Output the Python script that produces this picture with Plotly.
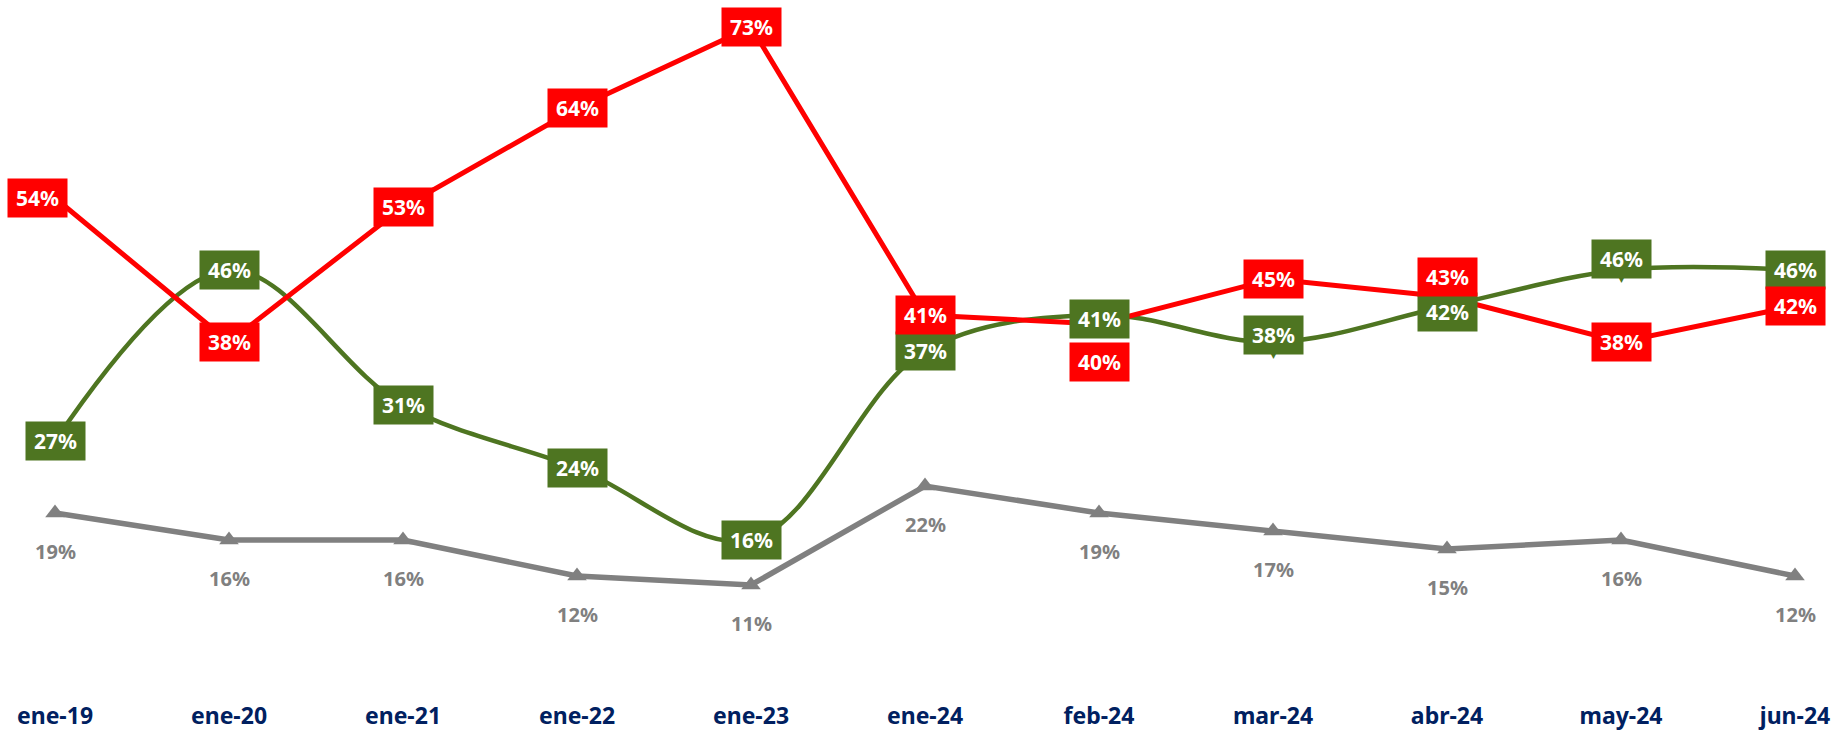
import plotly.graph_objects as go

# ---- data ----
categories = ["ene-19", "ene-20", "ene-21", "ene-22", "ene-23", "ene-24",
              "feb-24", "mar-24", "abr-24", "may-24", "jun-24"]
red_values = [54, 38, 53, 64, 73, 41, 40, 45, 43, 38, 42]
green_values = [27, 46, 31, 24, 16, 37, 41, 38, 42, 46, 46]
gray_values = [19, 16, 16, 12, 11, 22, 19, 17, 15, 16, 12]

# ---- styles ----
RED = "#FF0000"
GREEN = "#4E7521"
GRAY = "#808080"
NAVY = "#002060"
FONT = "Noto Sans"

W, H = 1835, 731
X0_PX, STEP_PX = 55, 174          # pixel position of first category / spacing
Y_BOTTOM_PX, PX_PER_UNIT = 684, 9  # pixel of value 0 / pixels per percent

# label offsets (pixels) for crowded points: index -> (xshift, yshift)
red_shift = {0: (-18, 0), 6: (0, -38), 8: (0, 20)}
green_shift = {6: (0, -4), 7: (0, 7), 8: (0, -6), 9: (0, 11)}
green_pointer = [7, 9]

xs = list(range(len(categories)))

fig = go.Figure()
fig.add_trace(go.Scatter(x=xs, y=gray_values, mode="lines+markers",
                         line=dict(color=GRAY, width=5.5),
                         marker=dict(symbol="triangle-up", size=17, color=GRAY),
                         hoverinfo="skip", showlegend=False))
fig.add_trace(go.Scatter(x=xs, y=green_values, mode="lines",
                         line=dict(color=GREEN, width=4.5, shape="spline", smoothing=1),
                         hoverinfo="skip", showlegend=False))
fig.add_trace(go.Scatter(x=xs, y=red_values, mode="lines",
                         line=dict(color=RED, width=5),
                         hoverinfo="skip", showlegend=False))

annotations = []
# gray labels below markers
for i, v in zip(xs, gray_values):
    annotations.append(dict(x=i, y=v, xref="x", yref="y", text=f"{v}%",
                            showarrow=False, yshift=-38,
                            font=dict(family=FONT, size=20, color=GRAY, weight="bold")))

def boxed(i, v, color, shift):
    dx, dy = shift.get(i, (0, 0))
    return dict(x=i, y=v, xref="x", yref="y", text=f"{v}%", showarrow=False,
                xshift=dx, yshift=dy, bgcolor=color, width=53, height=32, borderpad=3,
                font=dict(family=FONT, size=21, color="white", weight="bold"))

for i in green_pointer:
    dx, dy = green_shift.get(i, (0, 0))
    annotations.append(dict(x=i, y=green_values[i], xref="x", yref="y", text="▼",
                            showarrow=False, xshift=dx, yshift=dy - 20,
                            font=dict(family="DejaVu Sans", size=9, color=GREEN)))
for i, v in zip(xs, green_values):
    annotations.append(boxed(i, v, GREEN, green_shift))
for i, v in zip(xs, red_values):
    annotations.append(boxed(i, v, RED, red_shift))

fig.update_layout(
    width=W, height=H,
    margin=dict(l=0, r=0, t=0, b=H - Y_BOTTOM_PX, pad=0, autoexpand=False),
    paper_bgcolor="white", plot_bgcolor="white",
    showlegend=False,
    annotations=annotations,
    xaxis=dict(range=[-X0_PX / STEP_PX, (W - X0_PX) / STEP_PX],
               tickmode="array", tickvals=xs, ticktext=categories,
               tickfont=dict(family=FONT, size=23, color=NAVY, weight="bold"),
               showgrid=False, zeroline=False, showline=False, ticks="",
               ticklabelstandoff=16, automargin=False, fixedrange=True),
    yaxis=dict(range=[0, Y_BOTTOM_PX / PX_PER_UNIT], showgrid=False, zeroline=False,
               showline=False, showticklabels=False, ticks="", automargin=False,
               fixedrange=True),
)

fig.write_html("out.html", config={"displayModeBar": False},
               post_script="document.body.style.margin='0';document.body.style.overflow='hidden';")
